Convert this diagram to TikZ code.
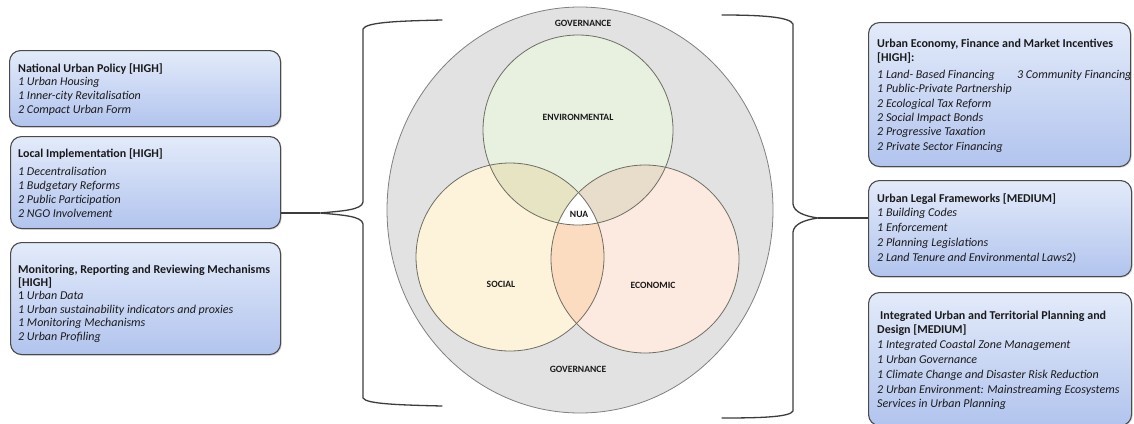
\documentclass[tikz,border=0pt]{standalone}
\usepackage{fontspec}
\setmainfont{Carlito}
\usetikzlibrary{shadows}

\definecolor{boxline}{HTML}{4A4A4A}
\definecolor{boxtop}{HTML}{E3EBFA}
\definecolor{boxbot}{HTML}{B2C4EE}
\definecolor{govfill}{HTML}{E2E2E2}
\definecolor{govline}{HTML}{808080}
\definecolor{envfill}{HTML}{E8F0DF}
\definecolor{socfill}{HTML}{FDF3DA}
\definecolor{ecofill}{HTML}{FCE9DF}
\definecolor{envsoc}{HTML}{E7E4C3}
\definecolor{enveco}{HTML}{E8DDCB}
\definecolor{soceco}{HTML}{FBDCC0}
\definecolor{ringline}{HTML}{6E6E64}
\definecolor{braceline}{HTML}{3C3C3C}
\definecolor{ink}{HTML}{1A1A1A}

\begin{document}
\begin{tikzpicture}[x=1pt,y=-1pt,
  box/.style={anchor=north west, draw=boxline, line width=1.1pt,
    rounded corners=11pt, top color=boxtop, bottom color=boxbot,
    inner sep=0pt,
    drop shadow={opacity=0.25, shadow xshift=1.2pt, shadow yshift=-1.2pt}},
  txt/.style={anchor=base west, inner sep=0pt, text=ink},
  venn/.style={font=\fontsize{9.6}{10}\selectfont\bfseries, text=ink, inner sep=0pt},
  brace/.style={draw=braceline, line width=1.3pt, line cap=round, line join=round},
  link/.style={draw=braceline, line width=1.3pt}]

\useasboundingbox (0,0) rectangle (1134,423);
\fill[white] (0,0) rectangle (1134,423);

% ---------- governance ellipse and the three pillars ----------
\draw[fill=govfill, draw=govline, line width=0.8pt]
  (580,210) ellipse [x radius=193pt, y radius=203pt];

\fill[envfill] (578,130) circle[radius=95pt];
\fill[socfill] (510,257) circle[radius=94pt];
\fill[ecofill] (645,259) circle[radius=94pt];
\begin{scope}
  \clip (578,130) circle[radius=95pt];
  \fill[envsoc] (510,257) circle[radius=94pt];
\end{scope}
\begin{scope}
  \clip (578,130) circle[radius=95pt];
  \fill[enveco] (645,259) circle[radius=94pt];
\end{scope}
\begin{scope}
  \clip (510,257) circle[radius=94pt];
  \fill[soceco] (645,259) circle[radius=94pt];
\end{scope}
\begin{scope}
  \clip (578,130) circle[radius=95pt];
  \clip (510,257) circle[radius=94pt];
  \fill[white] (645,259) circle[radius=94pt];
\end{scope}
\draw[ringline, line width=0.8pt] (578,130) circle[radius=95pt];
\draw[ringline, line width=0.8pt] (510,257) circle[radius=94pt];
\draw[ringline, line width=0.8pt] (645,259) circle[radius=94pt];

\node[venn] (govtop) at (583,23) {GOVERNANCE};
\node[venn] (govbot) at (578,369) {GOVERNANCE};
\node[venn] (env) at (578,117) {ENVIRONMENTAL};
\node[venn] (soc) at (501,284) {SOCIAL};
\node[venn] (eco) at (653,285) {ECONOMIC};
\node[venn] (nua) at (579,214) {NUA};

% ---------- braces ----------
\draw[brace] (442,20) .. controls (400,21) and (366,22) .. (363,29)
  -- (363,202) .. controls (362,210) and (342,211) .. (320,213)
  .. controls (342,215) and (362,216) .. (363,224)
  -- (363,398) .. controls (366,404) and (400,405) .. (442,406);
\coordinate (ltip) at (320,213);

\draw[brace] (722,15) .. controls (762,15) and (790,17) .. (793,24)
  -- (793,204) .. controls (794,212) and (804,216) .. (818,218)
  .. controls (804,220) and (794,224) .. (793,232)
  -- (793,411) .. controls (790,417) and (762,418) .. (722,418);
\coordinate (rtip) at (818,218);

% ---------- left boxes ----------
\node[box, minimum width=271pt, minimum height=76pt] (nup) at (9,50) {};
\node[txt] (nupt) at (18,72) {\parbox[t]{262pt}{\raggedright\fontsize{12}{13.7}\selectfont
  \textbf{National Urban Policy [HIGH]}\\
  \textit{1 Urban Housing}\\
  \textit{1 Inner-city Revitalisation}\\
  \textit{2 Compact Urban Form}}};

\node[box, minimum width=270pt, minimum height=92pt] (loc) at (10,136) {};
\node[txt] (loct) at (18,157) {\parbox[t]{262pt}{\raggedright\fontsize{12}{13.9}\selectfont
  \textbf{Local Implementation [HIGH]}\\[5pt]
  \textit{1 Decentralisation}\\
  \textit{1 Budgetary Reforms}\\
  \textit{2 Public Participation}\\
  \textit{2 NGO Involvement}}};

\node[box, minimum width=270pt, minimum height=112pt] (mon) at (10,242) {};
\node[txt] (mont) at (18,273) {\parbox[t]{262pt}{\raggedright\fontsize{12}{13.4}\selectfont
  \textbf{Monitoring, Reporting and Reviewing Mechanisms}\\
  \textbf{[HIGH]}\\
  1 \textit{Urban Data}\\
  \textit{1 Urban sustainability indicators and proxies}\\
  \textit{1 Monitoring Mechanisms}\\
  \textit{2 Urban Profiling}}};

% ---------- right boxes ----------
\node[box, minimum width=262pt, minimum height=144pt] (eco-box) at (868,22) {};
\node[txt] (ecot) at (877,47) {\parbox[t]{255pt}{\raggedright\fontsize{12}{14.3}\selectfont
  \textbf{Urban Economy, Finance and Market Incentives}\\
  \textbf{[HIGH]:}\\[3pt]
  \makebox[140pt][l]{\textit{1 Land- Based Financing}}\rlap{\textit{3 Community Financing}}\\
  \textit{1 Public-Private Partnership}\\
  \textit{2 Ecological Tax Reform}\\
  \textit{2 Social Impact Bonds}\\
  \textit{2 Progressive Taxation}\\
  \textit{2 Private Sector Financing}}};

\node[box, minimum width=263pt, minimum height=96pt] (leg) at (868,180) {};
\node[txt] (legt) at (877,202) {\parbox[t]{255pt}{\raggedright\fontsize{12}{14.8}\selectfont
  \textbf{Urban Legal Frameworks [MEDIUM]}\\
  \textit{1 Building Codes}\\
  \textit{1 Enforcement}\\
  \textit{2 Planning Legislations}\\
  \textit{2 Land Tenure and Environmental Laws}2)}};

\node[box, minimum width=263pt, minimum height=133pt] (plan) at (868,292) {};
\node[txt] (plant) at (877,319) {\parbox[t]{255pt}{\raggedright\fontsize{12}{14.8}\selectfont
  \hspace*{3pt}\textbf{Integrated Urban and Territorial Planning and}\\
  \textbf{Design [MEDIUM]}\\
  \textit{1 Integrated Coastal Zone Management}\\
  \textit{1 Urban Governance}\\
  \textit{1 Climate Change and Disaster Risk Reduction}\\
  \textit{2 Urban Environment: Mainstreaming Ecosystems}\\
  \textit{Services in Urban Planning}}};

% ---------- links from the braces to the boxes ----------
\draw[link] (ltip) -- (ltip -| loc.east);
\draw[link] (rtip) -- (rtip -| leg.west);

\end{tikzpicture}
\end{document}
